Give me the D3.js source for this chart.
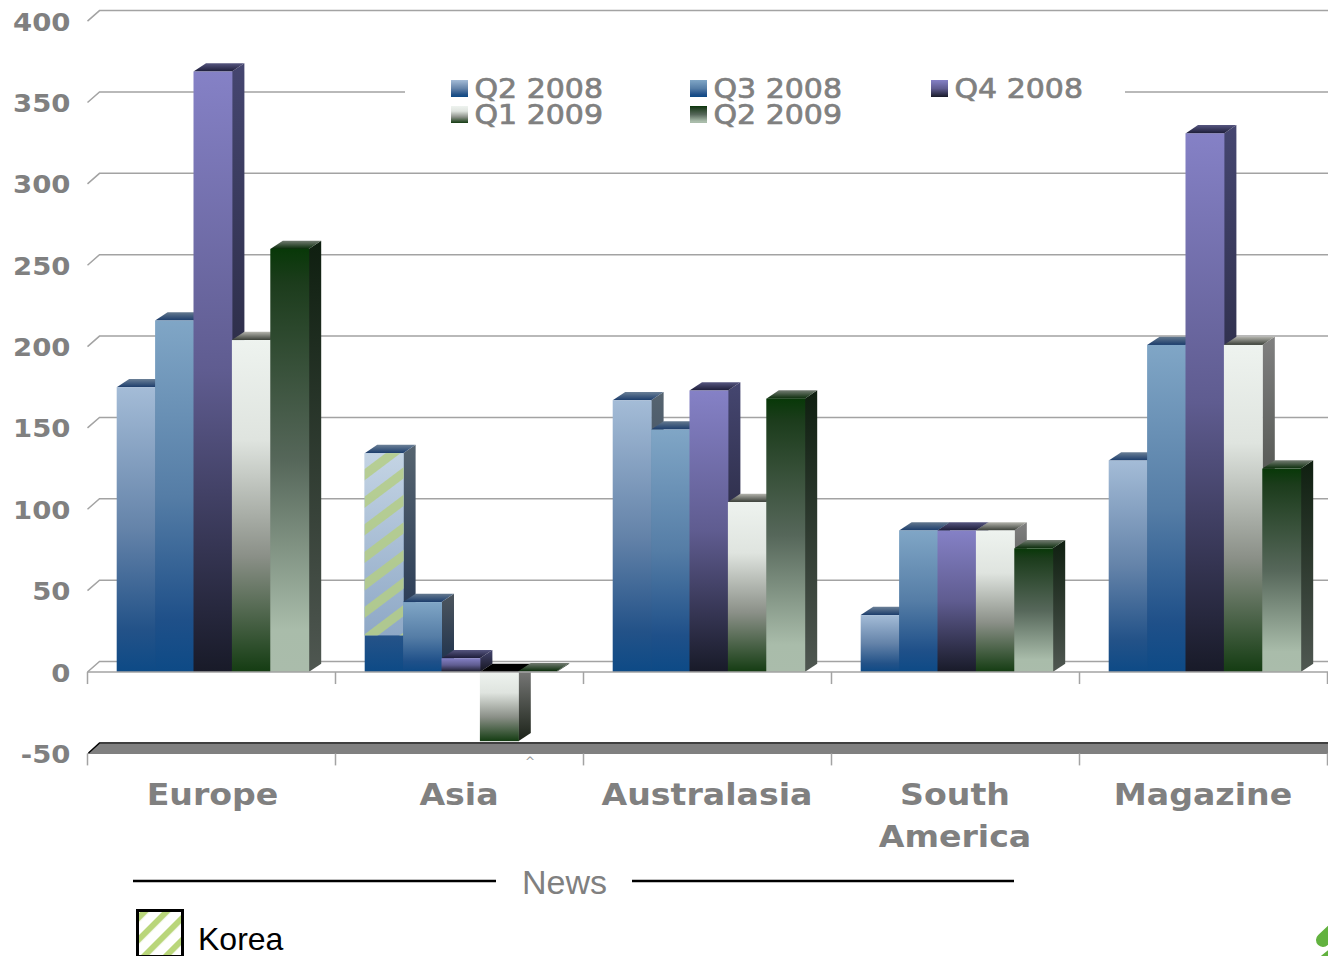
<!DOCTYPE html>
<html>
<head>
<meta charset="utf-8">
<script src="https://cdn.jsdelivr.net/npm/d3@7/dist/d3.min.js"></script>
<style>
html,body{margin:0;padding:0;background:#fff;overflow:hidden}
svg{display:block}
text{font-family:"DejaVu Sans",sans-serif}
</style>
</head>
<body>
<svg id="chart" width="1328" height="956"></svg>
<script>
const regions = ["Europe", "Asia", "Australasia", "South America", "Magazine"];
const quarters = ["Q2 2008", "Q3 2008", "Q4 2008", "Q1 2009", "Q2 2009"];
const q2_2008 = [175, 134.5, 167, 35, 130];
const q3_2008 = [216, 43, 149, 87, 201];
const q4_2008 = [369, 8.5, 173, 87, 331];
const q1_2009 = [204, -42.5, 104.5, 87, 201];
const q2_2009 = [260, 0.5, 168, 76, 125];
const koreaShare = { region: "Asia", quarter: "Q2 2008", from: 22.5, to: 134.5 };
const yTicks = [-50, 0, 50, 100, 150, 200, 250, 300, 350, 400];
const seriesValues = [q2_2008, q3_2008, q4_2008, q1_2009, q2_2009];

// Per-series shading: front face, side face and top face ramps
const frontRamps = [
  [[0, "#a4bcd7"], [.5, "#6483a9"], [.85, "#235288"], [1, "#0d4a86"]],
  [[0, "#80a6c6"], [.5, "#557da6"], [.85, "#1f5089"], [1, "#0d4a86"]],
  [[0, "#8581c6"], [.5, "#5f5c90"], [1, "#181a28"]],
  [[0, "#eef3ef"], [.3, "#dfe4df"], [.65, "#8b9088"], [1, "#143c12"]],
  [[0, "#083808"], [.08, "#1c3c1c"], [.5, "#56675a"], [.9, "#a9bcaa"], [1, "#aabcab"]]
];
const sideRamps = [
  [[0, "#566470"], [1, "#1c2f4e"]],
  [[0, "#4d565e"], [1, "#1a2f4c"]],
  [[0, "#454670"], [1, "#14141f"]],
  [[0, "#808080"], [1, "#1b2218"]],
  [[0, "#0f1f10"], [1, "#4f5751"]]
];
const topRamps = [
  [[0, "#6b8097"], [1, "#1b3c6b"]],
  [[0, "#64798f"], [1, "#1b3c6b"]],
  [[0, "#565680"], [1, "#1c1c38"]],
  [[0, "#b5b5ae"], [1, "#3a3f38"]],
  [[0, "#737c72"], [1, "#0a2c0a"]]
];

const wallDepthX = 12, wallDepthY = -10.5;
const barDepthX = 12.5, barDepthY = -8.3;
const chartLeft = 87.5, chartRight = 1327.5;
const svg = d3.select("#chart");
const defs = svg.append("defs");

const y = d3.scaleLinear().domain([-50, 400]).range([753.4, 21.1]);
const xRegion = d3.scaleBand().domain(regions).range([chartLeft, chartRight]);
const xQuarter = d3.scaleBand().domain(quarters).range([29.2, 29.2 + 38.4 * 5]);
const barW = xQuarter.bandwidth();

function ramp(id, stops) {
  const g = defs.append("linearGradient").attr("id", id)
    .attr("x1", 0).attr("y1", 0).attr("x2", 0).attr("y2", 1);
  stops.forEach(s => g.append("stop").attr("offset", s[0]).attr("stop-color", s[1]));
}
quarters.forEach((q, i) => {
  ramp("front" + i, frontRamps[i]);
  ramp("side" + i, sideRamps[i]);
  ramp("top" + i, topRamps[i]);
});

function stripes(id, period, width, angle, color, bg) {
  const p = defs.append("pattern").attr("id", id).attr("patternUnits", "userSpaceOnUse")
    .attr("width", period).attr("height", period).attr("patternTransform", `rotate(${angle})`);
  if (bg) p.append("rect").attr("width", period).attr("height", period).attr("fill", bg);
  p.append("rect").attr("width", width).attr("height", period).attr("fill", color);
}
stripes("koreaHatch", 15.5, 6, 45, "#b9d67a", "#ffffff");
stripes("barHatch", 22, 9, 53, "#b4cd86", null);
ramp("koreaLift", [[0, "#c4d4e4"], [1, "#8ea8c6"]]);

// Horizontal stretch for labels, which run wider than the stock glyphs
function stretch(sel, factor) {
  sel.each(function () {
    const len = this.getComputedTextLength();
    d3.select(this).attr("textLength", len * factor).attr("lengthAdjust", "spacingAndGlyphs");
  });
}

// Back-wall grid with its diagonal run down to the front edge
const grid = svg.append("g").attr("stroke", "#a3a3a3").attr("stroke-width", 1.5).attr("fill", "none");
yTicks.filter(t => t > -50).forEach(t => {
  grid.append("path").attr("d", d3.line()([
    [chartLeft, y(t)], [chartLeft + wallDepthX, y(t) + wallDepthY], [1328, y(t) + wallDepthY]
  ]));
});
// Floor band at the axis minimum
svg.append("path").attr("fill", "#808080").attr("stroke", "none")
  .attr("d", d3.line()([
    [chartLeft, y(-50)], [chartLeft + wallDepthX, y(-50) + wallDepthY], [1328, y(-50) + wallDepthY], [1328, y(-50) + .5], [chartLeft, y(-50) + .5]
  ]));
svg.append("path").attr("fill", "none").attr("stroke", "#000").attr("stroke-width", 1.4)
  .attr("d", d3.line()([[chartLeft + 1, y(-50) - .5], [chartLeft + wallDepthX, y(-50) + wallDepthY], [1328, y(-50) + wallDepthY]]));

// Vertical ticks on both horizontal rails
const tickXs = regions.map(r => xRegion(r)).concat([chartRight]);
const ticks = svg.append("g").attr("stroke", "#a3a3a3").attr("stroke-width", 1.5);
tickXs.forEach(x => {
  ticks.append("line").attr("x1", x).attr("x2", x).attr("y1", y(0)).attr("y2", y(0) + 12);
  ticks.append("line").attr("x1", x).attr("x2", x).attr("y1", y(-50)).attr("y2", y(-50) + 12);
});

// Bars in painter's order so each one covers its neighbour's side face
const bars = svg.append("g");
regions.forEach((region, r) => {
  quarters.forEach((q, s) => {
    const v = seriesValues[s][r];
    const x0 = xRegion(region) + xQuarter(q), x1 = x0 + barW;
    const yTop = y(Math.max(v, 0)), yBase = y(Math.min(v, 0));
    const g = bars.append("g");
    g.append("path").attr("fill", `url(#side${s})`)
      .attr("d", d3.line()([[x1, yTop], [x1 + barDepthX, yTop + barDepthY], [x1 + barDepthX, yBase + barDepthY], [x1, yBase]]));
    g.append("path").attr("fill", v < 0 ? "#000" : `url(#top${s})`)
      .attr("d", d3.line()([[x0, yTop], [x0 + barDepthX, yTop + barDepthY], [x1 + barDepthX, yTop + barDepthY], [x1, yTop]]));
    g.append("rect").attr("x", x0).attr("y", yTop).attr("width", barW + .5)
      .attr("height", Math.max(yBase - yTop, .5)).attr("fill", `url(#front${s})`);
    if (region === koreaShare.region && q === koreaShare.quarter) {
      const hy = y(koreaShare.to), hh = y(koreaShare.from) - hy;
      g.append("rect").attr("x", x0).attr("y", hy).attr("width", barW + .5).attr("height", hh).attr("fill", "url(#koreaLift)");
      g.append("rect").attr("x", x0).attr("y", hy).attr("width", barW + .5).attr("height", hh).attr("fill", "url(#barHatch)").attr("opacity", .85);
    }
  });
});

// Front zero rail runs over the foot of every bar
svg.append("line").attr("x1", chartLeft).attr("x2", 1328).attr("y1", y(0)).attr("y2", y(0))
  .attr("stroke", "#a3a3a3").attr("stroke-width", 1.5);

// Value axis labels
const yAxis = d3.axisLeft(y).tickValues(yTicks).tickSize(0).tickPadding(0).tickFormat(d => String(d));
const yG = svg.append("g").attr("transform", "translate(70.5,0)").call(yAxis);
yG.select(".domain").remove();
yG.selectAll("text").attr("fill", "#808080").style("font-family", '"DejaVu Sans",sans-serif')
  .style("font-size", "25px").style("font-weight", "bold").attr("dy", "0.36em");
stretch(yG.selectAll("text"), 1.1);

// Region labels, split over two lines where needed
const xLabels = svg.append("g").attr("fill", "#808080").attr("font-size", 31).attr("font-weight", "bold").attr("text-anchor", "middle");
regions.forEach(region => {
  const cx = xRegion(region) + xRegion.bandwidth() / 2 - 0.5 + (region === "Europe" ? 1.5 : 0);
  region.split(" ").forEach((word, i) => {
    xLabels.append("text").attr("x", cx).attr("y", 805 + i * 42).text(word);
  });
});
stretch(xLabels.selectAll("text"), 1.07);

svg.append("text").attr("x", 530).attr("y", 766).attr("text-anchor", "middle").attr("fill", "#999").attr("font-size", 12).text("^");

// Series key sits on a white panel that interrupts the grid
svg.append("rect").attr("x", 405).attr("y", 72).attr("width", 720).attr("height", 58).attr("fill", "#fff");
const keyCols = [451, 690, 931], keyRows = [80, 106];
quarters.forEach((q, i) => {
  const kx = keyCols[i % 3], ky = keyRows[Math.floor(i / 3)];
  svg.append("rect").attr("x", kx).attr("y", ky).attr("width", 17).attr("height", 17).attr("fill", `url(#front${i})`);
  const t = svg.append("text").attr("x", kx + 23.5).attr("y", ky + 17.5).attr("fill", "#808080")
    .attr("stroke", "#808080").attr("stroke-width", .7).attr("font-size", 27).text(q);
  stretch(t, 1.11);
});

// Group caption and the hatched key beneath the axis
const news = svg.append("g").attr("stroke", "#000").attr("stroke-width", 2.4);
news.append("line").attr("x1", 133).attr("x2", 496).attr("y1", 881).attr("y2", 881);
news.append("line").attr("x1", 632).attr("x2", 1014).attr("y1", 881).attr("y2", 881);
svg.append("text").attr("x", 564.5).attr("y", 894).attr("text-anchor", "middle").attr("fill", "#808080")
  .style("font-family", '"Liberation Sans",Arial,sans-serif').attr("font-size", 34).text("News");
svg.append("rect").attr("x", 137.5).attr("y", 910.5).attr("width", 45).attr("height", 46)
  .attr("fill", "url(#koreaHatch)").attr("stroke", "#000").attr("stroke-width", 3);
svg.append("text").attr("x", 198).attr("y", 950).attr("fill", "#000")
  .style("font-family", '"Liberation Sans",Arial,sans-serif').attr("font-size", 32).text("Korea");

// Corner of the brand mark at the page edge
const brand = svg.append("g").attr("stroke", "#62b23f").attr("stroke-linecap", "round").attr("fill", "none");
brand.append("line").attr("x1", 1323).attr("y1", 940).attr("x2", 1341).attr("y2", 923).attr("stroke-width", 14);
brand.append("line").attr("x1", 1324).attr("y1", 958).attr("x2", 1340).attr("y2", 945).attr("stroke-width", 7);
</script>
</body>
</html>
